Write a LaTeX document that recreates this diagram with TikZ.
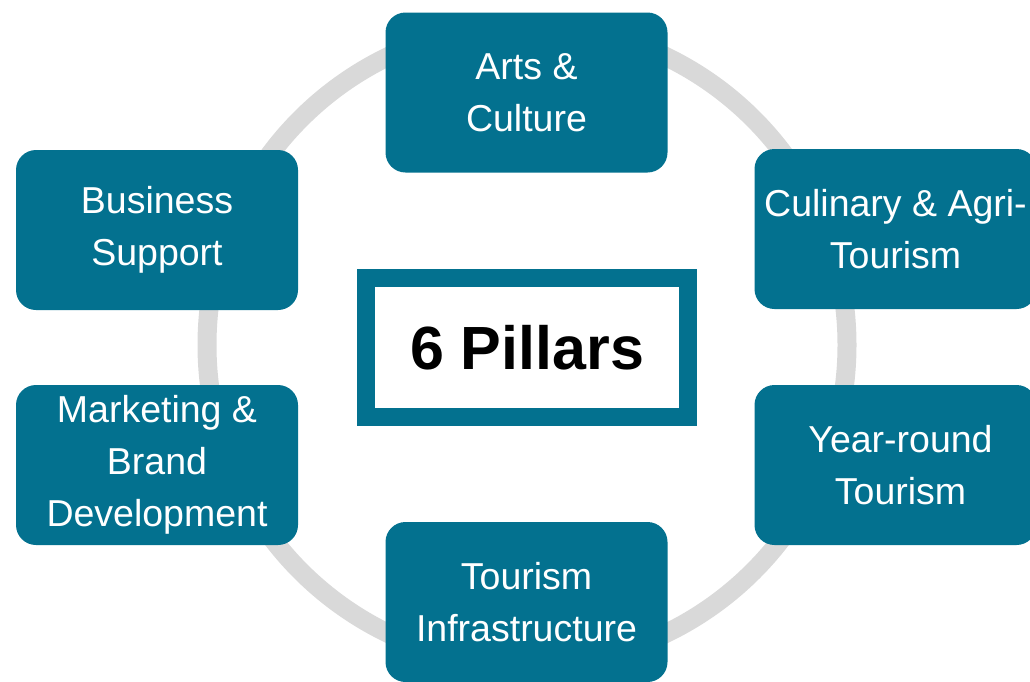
\documentclass[tikz,border=0pt]{standalone}
\usepackage{fontspec}
\setmainfont{Liberation Sans}
\definecolor{teal1}{HTML}{03718F}
\definecolor{ring}{HTML}{D9D9D9}
\begin{document}
\begin{tikzpicture}[x=1pt,y=-1pt,
  pillar/.style={draw=none, fill=teal1, rounded corners=20pt, minimum width=282pt, minimum height=160pt,
    text=white, align=center, inner sep=0pt, font=\fontsize{37.5}{52}\selectfont},
  hub/.style={draw=teal1, line width=17.5pt, fill=white, minimum width=322pt, minimum height=139pt,
    inner sep=0pt, font=\fontsize{61}{64}\selectfont\bfseries}]
\useasboundingbox (0,0) rectangle (1030,681);
\draw[ring, line width=19pt] (527,345) circle (320);
\node[pillar] (arts) at (526.5,92.5) {Arts \&\\Culture};
\node[pillar] (business) at (157,230) {Business\\Support};
\node[pillar] (culinary) at (895.5,229) {Culinary \& Agri-\\Tourism};
\node[pillar] (marketing) at (157,465) {Marketing \&\\Brand\\Development};
\node[pillar, align=center] (year) at (895.5,465) {\hspace*{10pt}Year-round\\\hspace*{10pt}Tourism};
\node[pillar] (infra) at (526.5,602) {Tourism\\Infrastructure};
\node[hub] (hub) at (527,347.5) {6 Pillars};
\end{tikzpicture}
\end{document}
